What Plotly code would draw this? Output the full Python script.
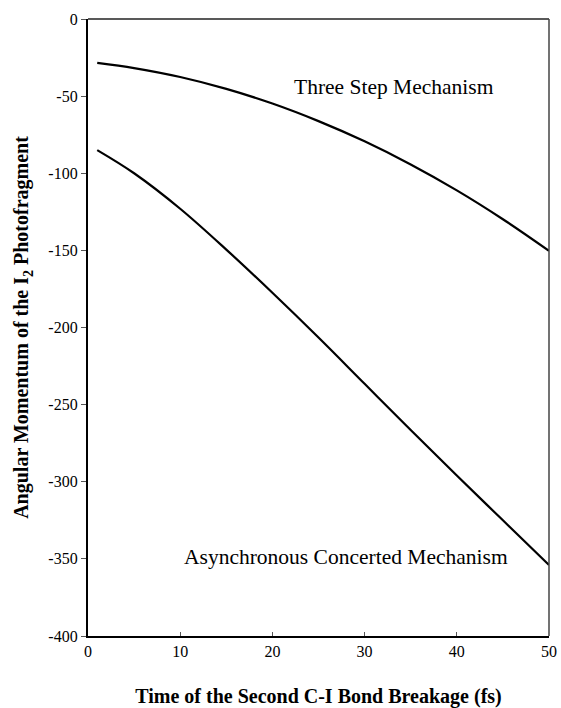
import plotly.graph_objects as go

# Data
time_fs = [1, 5, 10, 15, 20, 25, 30, 35, 40, 45, 50]
three_step = [-28.4, -31.8, -37.6, -45.3, -54.8, -66.2, -79.3, -94.3, -111.1, -129.8, -150.3]
async_concerted = [-85, -100, -123, -149.5, -177.5, -206.5, -236.5, -266.5, -296, -325, -354]

x_ticks = [0, 10, 20, 30, 40, 50]
x_ticklabels = ["0", "10", "20", "30", "40", "50"]
y_ticks = [0, -50, -100, -150, -200, -250, -300, -350, -400]
y_ticklabels = ["0", "-50", "-100", "-150", "-200", "-250", "-300", "-350", "-400"]

labels = ["Three Step Mechanism", "Asynchronous Concerted Mechanism"]
label_x = [33.2, 28.0]
label_y = [-44, -349]

FONT = "Liberation Serif, Times New Roman, serif"

fig = go.Figure()
fig.add_trace(go.Scatter(x=time_fs, y=three_step, mode="lines",
                         line=dict(color="black", width=2.2, shape="spline", smoothing=1),
                         name=labels[0], showlegend=False))
fig.add_trace(go.Scatter(x=time_fs, y=async_concerted, mode="lines",
                         line=dict(color="black", width=2.2, shape="spline", smoothing=1),
                         name=labels[1], showlegend=False))

for t, xx, yy in zip(labels, label_x, label_y):
    fig.add_annotation(x=xx, y=yy, text=t, showarrow=False,
                       font=dict(family=FONT, size=21.5, color="black"))

# top and right frame lines (thinner, like the reference)
fig.add_shape(type="line", xref="x domain", yref="y domain", x0=0, x1=1, y0=1, y1=1,
              line=dict(color="#222", width=1.5))
fig.add_shape(type="line", xref="x domain", yref="y domain", x0=1, x1=1, y0=0, y1=1,
              line=dict(color="#444", width=1.5))

fig.update_layout(
    width=561, height=708,
    margin=dict(l=88, r=12, t=19, b=72),
    paper_bgcolor="white", plot_bgcolor="white",
    font=dict(family=FONT, color="black", size=16),
    xaxis=dict(range=[0, 50], tickvals=x_ticks, ticktext=x_ticklabels, automargin=False,
               showgrid=False, zeroline=False, showline=True, linecolor="black",
               linewidth=2.2, ticks="inside", ticklen=4, tickcolor="#555", tickwidth=1,
               tickfont=dict(family=FONT, size=16),
               title=dict(text="<b>Time of the Second C-I Bond Breakage (fs)</b>",
                          font=dict(family=FONT, size=20), standoff=30)),
    yaxis=dict(range=[-400, 0], tickvals=y_ticks, ticktext=y_ticklabels, automargin=False,
               showgrid=False, zeroline=False, showline=True, linecolor="black",
               linewidth=2.2, ticks="outside", ticklen=5, tickcolor="#555", tickwidth=1,
               tickfont=dict(family=FONT, size=16),
               title=dict(text="<b>Angular Momentum of the I<sub>2</sub> Photofragment</b>",
                          font=dict(family=FONT, size=20), standoff=14)),
)

fig.write_html("out.html")
